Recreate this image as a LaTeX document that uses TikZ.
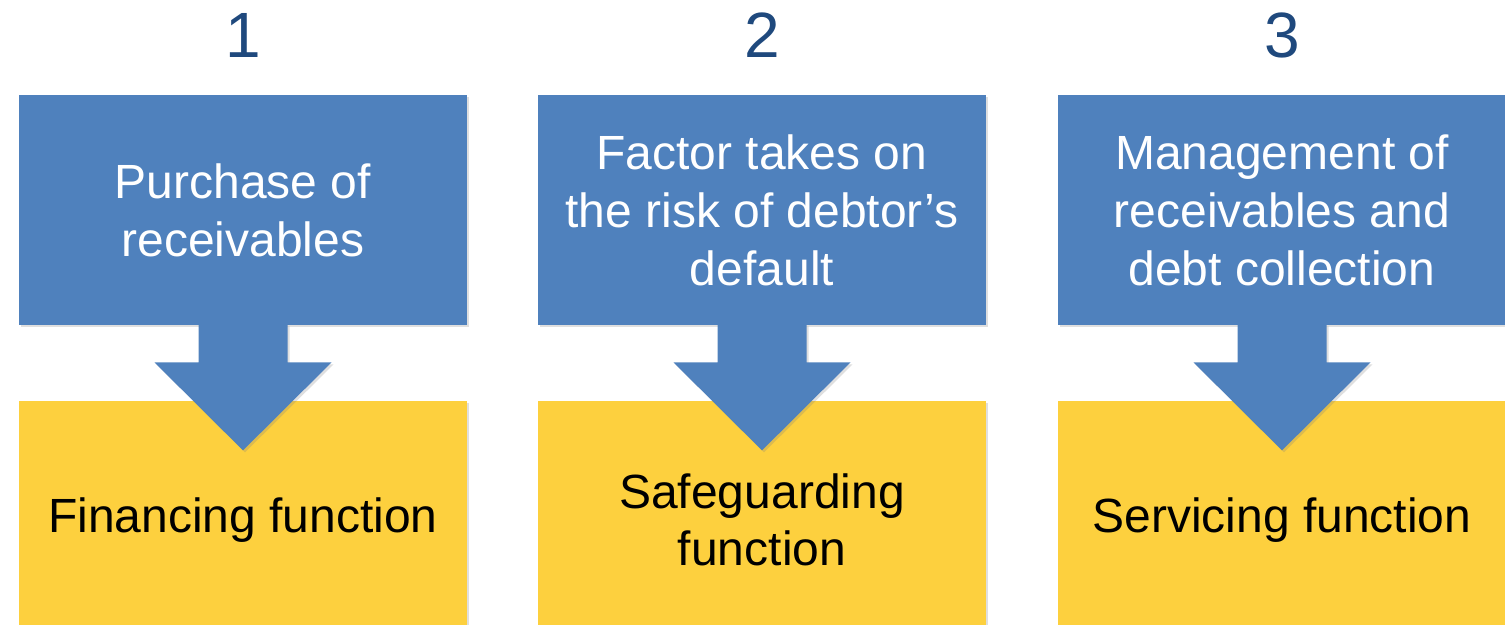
\documentclass[tikz,border=0pt]{standalone}
\usepackage{fontspec}
\setmainfont{Liberation Sans}
\usetikzlibrary{shadows}
\definecolor{boxblue}{HTML}{4F81BD}
\definecolor{boxyellow}{HTML}{FDD03E}
\definecolor{numblue}{HTML}{1F497D}
\begin{document}
\begin{tikzpicture}[x=0.5pt, y=-0.5pt,
	every node/.style={inner sep=0pt, align=center},
	num/.style={text=numblue, font=\fontsize{32}{36}\selectfont},
	topbox/.style={fill=boxblue, text=white, minimum width=224pt, minimum height=115pt,
		font=\fontsize{24}{29}\selectfont,
		drop shadow={opacity=0.25, shadow xshift=1pt, shadow yshift=-1pt}},
	botbox/.style={fill=boxyellow, text=black, minimum width=224pt, minimum height=119pt,
		font=\fontsize{24}{28.5}\selectfont,
		drop shadow={opacity=0.25, shadow xshift=1pt, shadow yshift=-1pt}}]
	
	\useasboundingbox (0,0) rectangle (1505,625);
	
	\node[num] (num1) at (243,35) {1};
	\node[num] (num2) at (762,35) {2};
	\node[num] (num3) at (1282,35) {3};
	
	\node[botbox] (bot1) at (243,520) {Financing function};
	\node[botbox] (bot2) at (762,520) {Safeguarding\\function};
	\node[botbox] (bot3) at (1282,520) {Servicing function};
	
	\node[topbox] (top1) at (243,210) {Purchase of\\receivables};
	\node[topbox] (top2) at (762,210) {Factor takes on\\the risk of debtor’s\\default};
	\node[topbox] (top3) at (1282,210) {Management of\\receivables and\\debt collection};
	
	\foreach \c in {1,2,3}
		\fill[boxblue, drop shadow={opacity=0.25, shadow xshift=1pt, shadow yshift=-1pt}]
			(top\c.south) ++(-44.5,-1) -- ++(0,38) -- ++(-44,0) -- ++(88.5,88)
			-- ++(88.5,-88) -- ++(-44,0) -- ++(0,-38) -- cycle;
	
\end{tikzpicture}
\end{document}
